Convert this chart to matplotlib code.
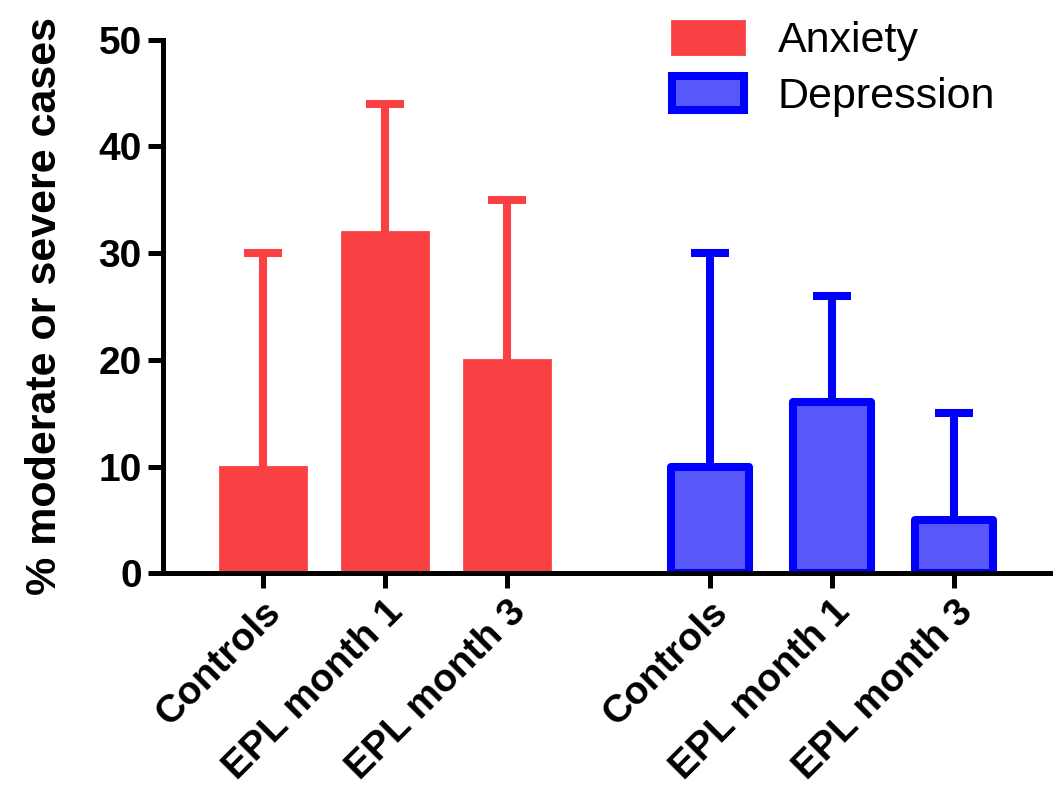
import matplotlib.pyplot as plt
import matplotlib.transforms as mtransforms
import numpy as np
from matplotlib.patches import Patch

plt.rcParams["font.family"] = ["Liberation Sans", "DejaVu Sans"]

groups = ["Controls", "EPL month 1", "EPL month 3"]
anxiety = [10, 32, 20]
anxiety_err = [20, 12, 15]
depression = [10, 16, 5]
depression_err = [20, 10, 10]

red = "#F94144"
blue_fill = "#5858F8"
blue_edge = "#0000FF"

x_anx = np.arange(3)
x_dep = np.arange(3) + 3.66

fig = plt.figure(figsize=(10.56, 7.95), dpi=100)
ax = fig.add_axes([0.154, 0.279, 0.84, 0.671])


def upper_err(xs, ys, errs, color):
    # only the upper whisker, so drop the cap that sits on the bar top
    eb = ax.errorbar(xs, ys, yerr=[np.zeros(len(ys)), errs], fmt="none",
                     ecolor=color, elinewidth=5.8, capsize=14, capthick=5.8, zorder=1)
    for cap in eb[1]:
        if np.allclose(cap.get_ydata(), ys):
            cap.set_visible(False)


upper_err(x_anx, anxiety, anxiety_err, red)
upper_err(x_dep, depression, depression_err, blue_edge)
ax.bar(x_anx, anxiety, width=0.7, color=red, edgecolor=red, linewidth=2, zorder=2)
bars = ax.bar(x_dep, depression, width=0.64, color=blue_fill, edgecolor=blue_edge,
              linewidth=5.8, zorder=2)
for b in bars:
    b.set_joinstyle("round")

ax.set_xlim(-0.82, x_dep[-1] + 0.78)
ax.set_ylim(0, 50)
ax.set_yticks([0, 10, 20, 30, 40, 50])
ax.set_xticks(np.concatenate([x_anx, x_dep]))
ax.set_xticklabels(groups + groups, rotation=45, ha="right", rotation_mode="anchor",
                   fontsize=28, fontweight="bold")
shift = mtransforms.ScaledTranslation(-14 / 100, 0, fig.dpi_scale_trans)
for lab in ax.get_xticklabels():
    lab.set_transform(lab.get_transform() + shift)
for lab in ax.get_yticklabels():
    lab.set_fontsize(28)
    lab.set_fontweight("bold")

ax.spines["top"].set_visible(False)
ax.spines["right"].set_visible(False)
ax.spines["left"].set_linewidth(3.6)
ax.spines["bottom"].set_linewidth(3.6)
ax.tick_params(axis="both", length=11, width=3.6, pad=4)
ax.set_ylabel("% moderate or severe cases", fontsize=31, fontweight="bold", labelpad=24)

handles = [Patch(facecolor=red, edgecolor=red, linewidth=2, joinstyle="round"),
           Patch(facecolor=blue_fill, edgecolor=blue_edge, linewidth=5.8, joinstyle="round")]
fig.legend(handles, ["Anxiety", "Depression"], loc="upper left",
           bbox_to_anchor=(0.616, 1.001), frameon=False, fontsize=31,
           borderpad=0, handlelength=1.68, handleheight=0.82, handletextpad=0.78,
           labelspacing=0.35)

fig.savefig("out.png", dpi=100)
